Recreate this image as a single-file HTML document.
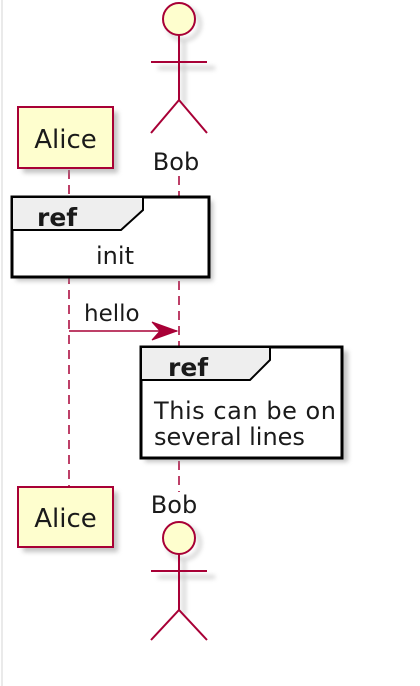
<!DOCTYPE html>
<html><head><meta charset="utf-8"><style>
html,body{margin:0;padding:0;background:#fff;}
svg{display:block;}
text{font-family:"DejaVu Sans","Liberation Sans",sans-serif;fill:#1a1a1a;}
</style></head><body>
<svg width="420" height="686" viewBox="0 0 420 686" xmlns="http://www.w3.org/2000/svg">
<defs>
<filter id="sh" x="-20%" y="-20%" width="150%" height="150%"><feGaussianBlur stdDeviation="2.5"/></filter>
</defs>
<line x1="2" y1="0" x2="2" y2="686" stroke="#e4e4e4" stroke-width="1.5"/>
<line x1="69" y1="170" x2="69" y2="487" stroke="#A80036" stroke-width="1.5" stroke-dasharray="9,6"/>
<line x1="179" y1="176" x2="179" y2="492" stroke="#A80036" stroke-width="1.5" stroke-dasharray="9,6"/>

<rect x="23" y="112" width="95" height="61" fill="#888" opacity="0.5" filter="url(#sh)"/>
<rect x="18" y="107" width="95" height="61" fill="#FEFECE" stroke="#A80036" stroke-width="2"/>
<text x="65.5" y="148" font-size="26" text-anchor="middle">Alice</text>
<g opacity="0.35" filter="url(#sh)" stroke="#666" stroke-width="3" fill="none">
<circle cx="184" cy="24" r="16"/><line x1="184" y1="40" x2="184" y2="105"/><line x1="158" y1="68" x2="215" y2="68"/>
</g>
<circle cx="179" cy="19" r="16" fill="#FEFECE" stroke="#A80036" stroke-width="2"/>
<g stroke="#A80036" stroke-width="2" fill="none">
<line x1="179" y1="35" x2="179" y2="100"/><line x1="151" y1="62" x2="207" y2="62"/>
<polyline points="151,133 179,100 207,133"/>
</g>
<text x="176" y="170" font-size="24" text-anchor="middle">Bob</text>

<rect x="16" y="201" width="197" height="80" fill="#888" opacity="0.5" filter="url(#sh)"/>
<rect x="12" y="197" width="197" height="80" fill="#fff" stroke="#000" stroke-width="3"/>
<polygon points="12,197 143,197 143,210 121,230 12,230" fill="#EEEEEE" stroke="#000" stroke-width="2"/>
<text x="37" y="226" font-size="25" font-weight="bold">ref</text>
<text x="115" y="264" font-size="24" text-anchor="middle">init</text>

<line x1="69" y1="331" x2="177" y2="331" stroke="#A80036" stroke-width="1.5"/>
<polygon points="152,322 177,331 152,340 160,331" fill="#A80036" stroke="#A80036" stroke-width="1"/>
<text x="84" y="321" font-size="23">hello</text>

<rect x="145" y="351" width="203" height="111" fill="#888" opacity="0.5" filter="url(#sh)"/>
<rect x="141" y="347" width="201" height="111" fill="#fff" stroke="#000" stroke-width="3"/>
<polygon points="141,347 270,347 270,360 250,380 141,380" fill="#EEEEEE" stroke="#000" stroke-width="2"/>
<text x="168" y="376" font-size="25" font-weight="bold">ref</text>
<text x="154" y="419" font-size="24" textLength="182">This can be on</text>
<text x="154" y="445" font-size="24">several lines</text>

<rect x="23" y="492" width="95" height="60" fill="#888" opacity="0.5" filter="url(#sh)"/>
<rect x="18" y="487" width="95" height="60" fill="#FEFECE" stroke="#A80036" stroke-width="2"/>
<text x="65.5" y="527" font-size="26" text-anchor="middle">Alice</text>
<text x="174" y="513" font-size="24" text-anchor="middle">Bob</text>
<g opacity="0.35" filter="url(#sh)" stroke="#666" stroke-width="3" fill="none">
<circle cx="184" cy="543" r="16"/><line x1="184" y1="559" x2="184" y2="615"/><line x1="158" y1="577" x2="215" y2="577"/>
</g>
<circle cx="179" cy="538" r="16" fill="#FEFECE" stroke="#A80036" stroke-width="2"/>
<g stroke="#A80036" stroke-width="2" fill="none">
<line x1="179" y1="554" x2="179" y2="610"/><line x1="151" y1="571" x2="207" y2="571"/>
<polyline points="151,640 179,610 207,640"/>
</g>
</svg>
</body></html>
